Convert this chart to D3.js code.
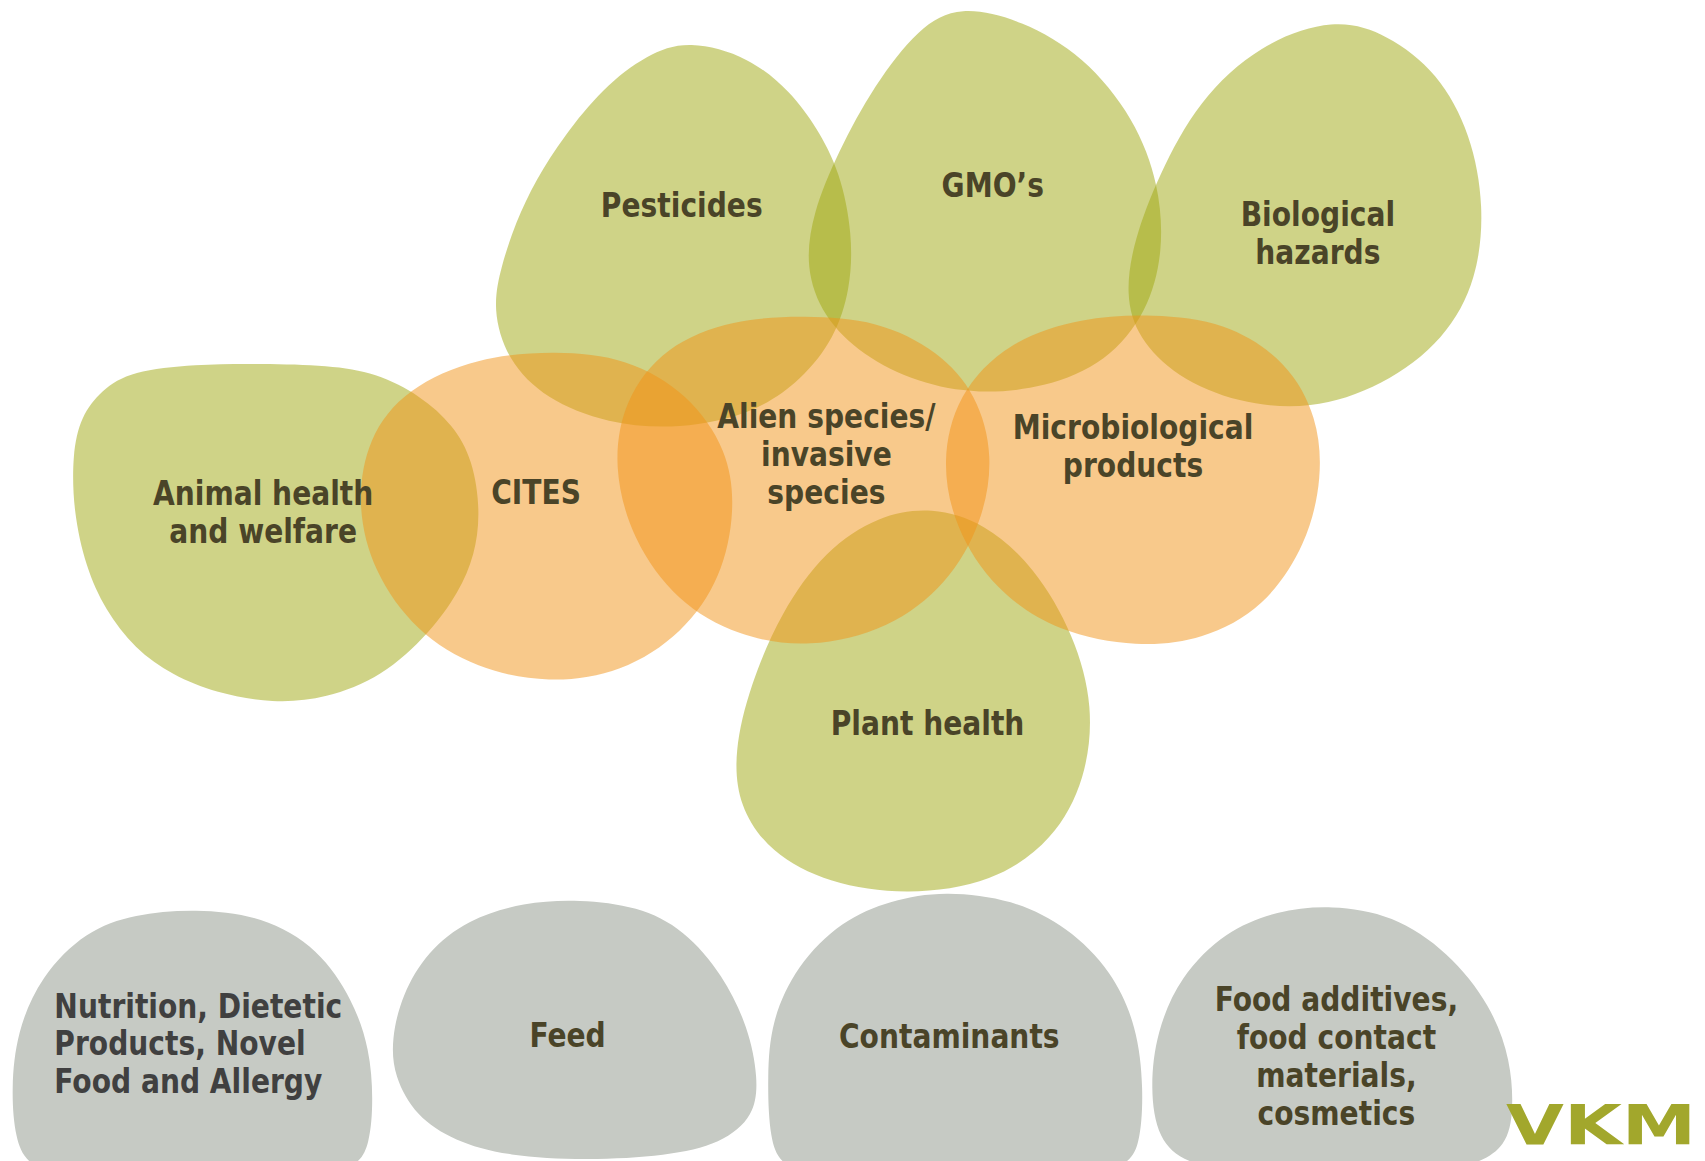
<!DOCTYPE html>
<html>
<head>
<meta charset="utf-8">
<script src="https://cdn.jsdelivr.net/npm/d3@7"></script>
<style>
  html, body { margin: 0; padding: 0; background: #ffffff; }
  svg { display: block; }
  .lbl { font-family: "DejaVu Sans", sans-serif; font-stretch: condensed; font-weight: bold; }
</style>
</head>
<body>
<svg id="chart" width="1705" height="1161"></svg>
<script>
// ---- Data (outline points, in reference units 1568x1068) ----
const areaNames = ["Pesticides", "GMO’s", "Biological hazards", "Animal health and welfare",
  "Plant health", "CITES", "Alien species/ invasive species", "Microbiological products",
  "Nutrition, Dietetic Products, Novel Food and Allergy", "Feed", "Contaminants",
  "Food additives, food contact materials, cosmetics"];
const areaGroups = ["env", "env", "env", "env", "env", "nature", "nature", "nature",
  "food", "food", "food", "food"];

const pesticidesOutline = [[635,41],[687,55],[725,85],[750,118],[771,160],[782,215],[780,265],[765,310],[735,348],[690,378],[625,392],[560,387],[505,365],[470,330],[456,285],[462,245],[475,205],[494,165],[520,125],[555,83],[595,53]];
const gmoOutline = [[885,10],[940,22],[995,55],[1040,110],[1063,170],[1067,230],[1052,285],[1015,330],[960,354],[900,360],[845,350],[795,325],[760,290],[744,245],[750,195],[772,140],[805,80],[845,30]];
const bioHazardsOutline = [[1225,22],[1275,35],[1320,70],[1350,125],[1362,190],[1355,255],[1325,310],[1270,352],[1205,373],[1140,368],[1085,345],[1050,310],[1038,270],[1045,220],[1068,160],[1105,95],[1160,45]];
const animalOutline = [[240,335],[300,337],[345,345],[385,365],[415,392],[433,425],[440,470],[435,510],[420,545],[393,582],[350,620],[300,640],[251,645],[200,636],[160,620],[125,595],[98,560],[80,520],[69,470],[68,420],[76,385],[95,360],[125,343],[180,336]];
const plantOutline = [[857,470],[905,485],[950,525],[985,585],[1002,650],[995,715],[965,770],[910,808],[835,820],[765,810],[712,782],[683,740],[678,690],[692,630],[720,565],[760,510],[808,478]];
const citesOutline = [[510,325],[575,333],[630,365],[665,415],[673,470],[660,530],[625,580],[570,615],[505,625],[440,612],[385,578],[347,525],[332,465],[342,405],[378,360],[440,332]];
const alienOutline = [[740,292],[805,298],[860,325],[895,365],[910,420],[900,480],[868,535],[815,575],[745,592],[680,582],[625,550],[585,495],[568,430],[578,370],[615,322],[675,297]];
const microOutline = [[1060,291],[1125,300],[1180,335],[1208,385],[1213,440],[1198,500],[1160,555],[1105,585],[1045,592],[975,578],[918,540],[882,485],[870,425],[885,365],[930,318],[995,295]];
const nutritionOutline = [[180,838],[240,846],[290,875],[322,920],[338,965],[342,1010],[338,1050],[320,1075],[260,1085],[180,1088],[100,1085],[35,1075],[16,1045],[12,1000],[18,950],[40,900],[80,860],[125,843]];
const feedOutline = [[533,829],[585,836],[628,858],[663,898],[686,945],[695,990],[690,1025],[660,1050],[610,1062],[540,1066],[470,1062],[420,1048],[385,1025],[365,990],[362,955],[372,915],[395,877],[432,848],[482,832]];
const contaminantsOutline = [[870,822],[930,830],[980,855],[1020,895],[1043,945],[1050,1000],[1046,1050],[1025,1075],[950,1085],[870,1088],[790,1085],[728,1075],[710,1045],[707,990],[712,940],[735,890],[775,850],[820,830]];
const additivesOutline = [[1225,835],[1280,845],[1330,878],[1368,925],[1387,975],[1390,1020],[1382,1052],[1350,1072],[1290,1080],[1225,1082],[1160,1080],[1098,1070],[1068,1045],[1060,1000],[1066,950],[1088,900],[1128,860],[1175,840]];
const outlines = [pesticidesOutline, gmoOutline, bioHazardsOutline, animalOutline, plantOutline,
  citesOutline, alienOutline, microOutline, nutritionOutline, feedOutline, contaminantsOutline, additivesOutline];

// label lines and their anchor points (reference units)
const labelLines = [["Pesticides"], ["GMO’s"], ["Biological", "hazards"], ["Animal health", "and welfare"],
  ["Plant health"], ["CITES"], ["Alien species/", "invasive", "species"], ["Microbiological", "products"],
  ["Nutrition, Dietetic", "Products, Novel", "Food and Allergy"], ["Feed"], ["Contaminants"],
  ["Food additives,", "food contact", "materials,", "cosmetics"]];
const labelAnchorX = [627, 913, 1212, 242, 853, 493, 760, 1042, 50, 522, 873, 1229];
const labelFirstBaseline = [200, 181, 208, 465, 676, 464, 394, 404, 936, 963, 964, 930];
const logoText = "VKM";

// ---- Rendering ----
const W = 1705, H = 1161;
const x = d3.scaleLinear().domain([0, 1568]).range([0, W]);
const y = d3.scaleLinear().domain([0, 1068]).range([0, H]);

const fillColor = d3.scaleOrdinal().domain(["env", "nature", "food"]).range(["rgb(159,167,15)", "rgb(241,147,23)", "#c6cac4"]);
const fillOpacity = d3.scaleOrdinal().domain(["env", "nature", "food"]).range([0.5, 0.5, 1]);
const textColor = d3.scaleOrdinal().domain(["env", "nature", "food"]).range(["#4a4428", "#4a4428", "#4a4428"]);

const svg = d3.select("#chart");

// smooth closed B-spline through (approximately) the read points:
// control points pushed outward so the basis curve passes near each point
function controlPoints(pts) {
  const p = pts.map(d => [x(d[0]), y(d[1])]);
  const n = p.length;
  return p.map((c, i) => {
    const a = p[(i - 1 + n) % n], b = p[(i + 1) % n];
    const mx = (a[0] + b[0]) / 2, my = (a[1] + b[1]) / 2;
    return [c[0] + (c[0] - mx) / 3, c[1] + (c[1] - my) / 3];
  });
}
const line = d3.line().curve(d3.curveBasisClosed);

const areas = areaNames.map((name, i) => ({ name, group: areaGroups[i], outline: outlines[i],
  lines: labelLines[i], ax: labelAnchorX[i], ay: labelFirstBaseline[i], idx: i }));

const order = ["env", "nature", "food"];
const sorted = areas.slice().sort((a, b) => order.indexOf(a.group) - order.indexOf(b.group));

svg.append("g").selectAll("path").data(sorted).join("path")
  .attr("d", d => line(controlPoints(d.outline)))
  .attr("fill", d => fillColor(d.group))
  .attr("fill-opacity", d => fillOpacity(d.group));

const lineH = 38;
const fontSize = 34;
const squeeze = 0.92;
const lbl = svg.append("g").selectAll("g").data(areas).join("g")
  .attr("transform", d => `translate(${x(d.ax)},${y(d.ay)}) scale(${squeeze},1)`);
lbl.each(function(d) {
  const g = d3.select(this);
  const leftAligned = d.idx === 8;
  d.lines.forEach((t, k) => {
    g.append("text").attr("class", "lbl")
      .attr("x", 0).attr("y", k * lineH)
      .attr("text-anchor", leftAligned ? "start" : "middle")
      .attr("font-size", fontSize)
      .attr("fill", leftAligned ? "#404040" : textColor(d.group))
      .text(t);
  });
});

// logo
svg.append("text")
  .attr("transform", `translate(${x(1385)},${y(1052)}) scale(1.36,1)`)
  .attr("font-family", "DejaVu Sans, sans-serif")
  .attr("font-weight", "bold")
  .attr("font-size", 55)
  .attr("fill", "#a2a72c")
  .text(logoText);
</script>
</body>
</html>
